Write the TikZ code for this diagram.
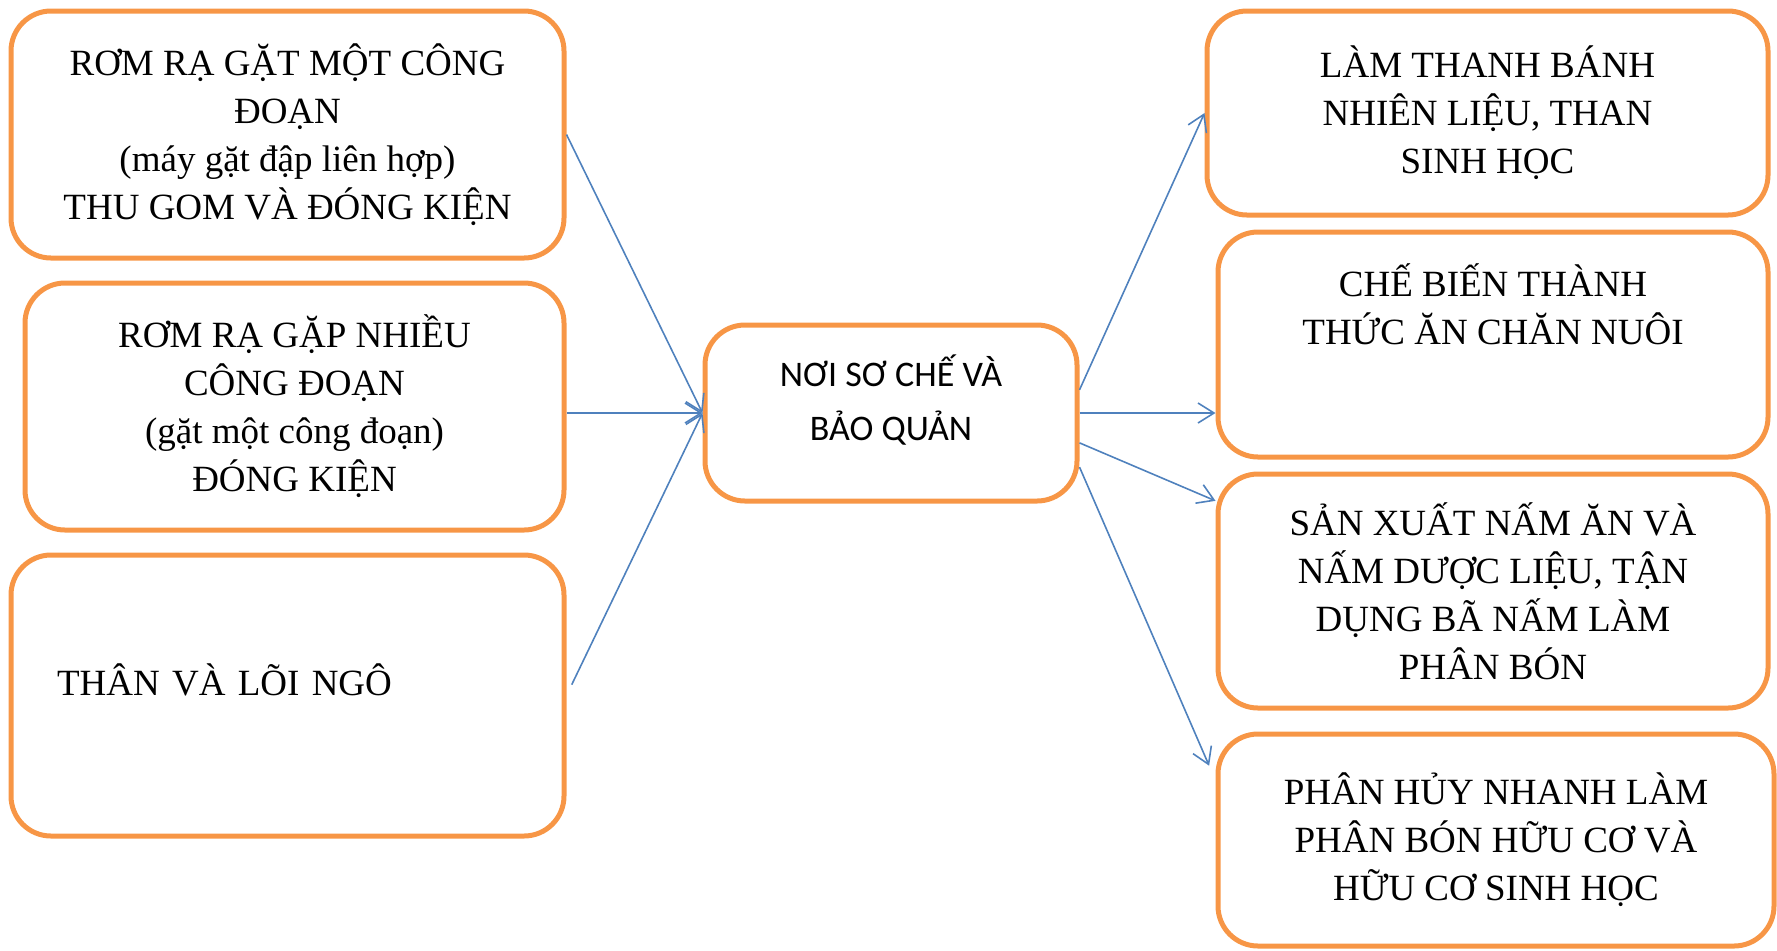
\documentclass[tikz,border=0pt]{standalone}
\usepackage{fontspec}
\setmainfont{Liberation Serif}
\newfontfamily\hubfont{Carlito}
\usetikzlibrary{arrows.meta,positioning,calc}
\definecolor{boxorange}{HTML}{F79646}
\definecolor{linkblue}{HTML}{4F81BD}
\tikzset{
  stage/.style = {draw=boxorange, line width=2.5pt, rounded corners=20pt, rectangle,
                  align=center, inner sep=0pt, font=\fontsize{18.5pt}{24pt}\selectfont},
  hub/.style   = {stage, font=\hubfont\fontsize{18pt}{27pt}\selectfont},
  post/.style  = {-{Straight Barb[length=8pt,width=10pt]}, draw=linkblue, line width=0.8pt},
}

\begin{document}
\begin{tikzpicture}[x=0.5pt, y=-0.5pt]
    \useasboundingbox (0,0) rectangle (1777,950);

    % sources
    \node[stage, minimum width=276.5pt, minimum height=123.5pt] (straw single) at (287.5,134.5)
      {RƠM RẠ GẶT MỘT CÔNG\\ĐOẠN\\(máy gặt đập liên hợp)\\THU GOM VÀ ĐÓNG KIỆN};
    \node[stage, minimum width=269.5pt, minimum height=123.5pt] (straw multi) at (294.5,406.5)
      {RƠM RẠ GẶP NHIỀU\\CÔNG ĐOẠN\\(gặt một công đoạn)\\ĐÓNG KIỆN};
    \node[stage, minimum width=276.5pt, minimum height=140.5pt, align=left,
          text width=230.5pt, inner xsep=23pt] (corn stalk) at (287.5,695.5)
      {THÂN VÀ LÕI NGÔ\\[-8pt]~};

    % processing
    \node[hub, minimum width=186pt, minimum height=88pt] (processing) at (891,413)
      {NƠI SƠ CHẾ VÀ\\BẢO QUẢN\\[-12pt]~};

    % uses
    \node[stage, minimum width=280.5pt, minimum height=102pt] (fuel) at (1487.5,113)
      {LÀM THANH BÁNH\\NHIÊN LIỆU, THAN\\SINH HỌC};
    \node[stage, minimum width=275pt, minimum height=112.5pt] (feed) at (1493,344.5)
      {CHẾ BIẾN THÀNH\\THỨC ĂN CHĂN NUÔI\\[16pt]~};
    \node[stage, minimum width=275pt, minimum height=117pt] (mushroom) at (1493,591)
      {SẢN XUẤT NẤM ĂN VÀ\\NẤM DƯỢC LIỆU, TẬN\\DỤNG BÃ NẤM LÀM\\PHÂN BÓN};
    \node[stage, minimum width=278pt, minimum height=106pt] (compost) at (1496,840)
      {PHÂN HỦY NHANH LÀM\\PHÂN BÓN HỮU CƠ VÀ\\HỮU CƠ SINH HỌC};

    \draw[post] (straw single.east) -- (processing.west);
    \draw[post] (straw multi.east |- processing.west) -- (processing.west);
    \draw[post, shorten <=6pt] (corn stalk.east) -- (processing.west);

    \draw[post] (processing.7) -- (fuel.west);
    \draw[post] (processing.east) -- (processing.east -| feed.west);
    \draw[post] (processing.-9) -- (mushroom.162);
    \draw[post, shorten >=8pt] (processing.-16) -- (compost.168);
\end{tikzpicture}
\end{document}
